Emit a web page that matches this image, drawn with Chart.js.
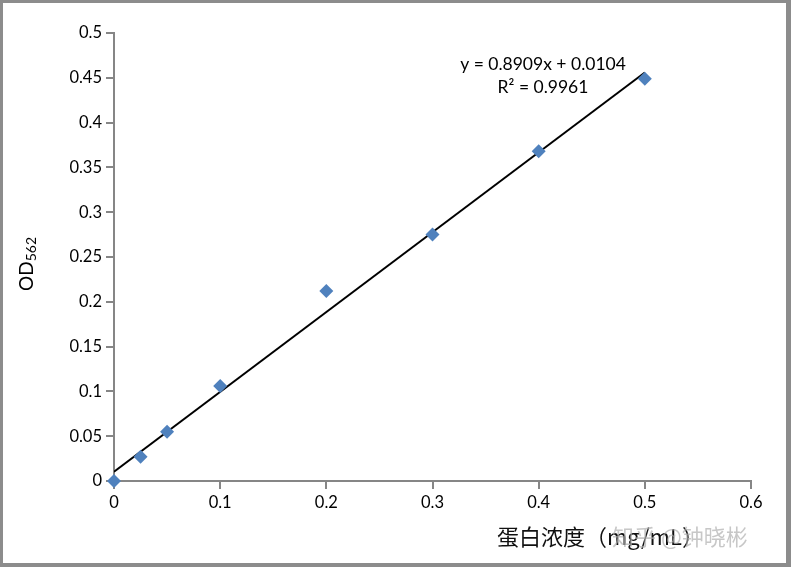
<!DOCTYPE html>
<html>
<head>
<meta charset="utf-8">
<script src="https://cdn.jsdelivr.net/npm/chart.js@4/dist/chart.umd.min.js"></script>
<style>
  html, body { margin: 0; padding: 0; background: #fff; }
  #wrap { width: 791px; height: 567px; position: relative; }
</style>
</head>
<body>
<div id="wrap"><canvas id="myChart" width="791" height="567"></canvas></div>
<script>
// DATA
const concentration = [0, 0.025, 0.05, 0.1, 0.2, 0.3, 0.4, 0.5];
const od562 = [0, 0.027, 0.055, 0.106, 0.212, 0.275, 0.368, 0.449];

const slope = 0.8909;
const intercept = 0.0104;
const trendX = [0, 0.5];

const equationText = 'y = 0.8909x + 0.0104';
const r2Text = 'R² = 0.9961';
const xTitle = '蛋白浓度（mg/mL）';
const watermark = '知乎 @钟晓彬';

const AXIS_GRAY = '#868686';
const POINT_BLUE = '#4F81BD';
const TICK_FONT = { family: 'Lato, "Open Sans", sans-serif', size: 16.5 };

const trendData = trendX.map(x => ({ x: x, y: slope * x + intercept }));
const pointData = concentration.map((c, i) => ({ x: c, y: od562[i] }));

// extra text + frame, drawn on the canvas
const decorations = {
  id: 'decorations',
  afterDraw(chart) {
    const ctx = chart.ctx;
    ctx.save();

    // equation
    ctx.fillStyle = '#000';
    ctx.font = '17.5px Lato, "Open Sans", sans-serif';
    ctx.textAlign = 'center';
    ctx.textBaseline = 'middle';
    ctx.fillText(equationText, 543, 64);
    ctx.fillText(r2Text, 543, 87);

    // y title OD562, rotated
    ctx.translate(27, 262);
    ctx.rotate(-Math.PI / 2);
    ctx.textAlign = 'left';
    ctx.font = '19px Lato, "Open Sans", sans-serif';
    ctx.fillText('OD', -29, 0);
    const w = ctx.measureText('OD').width;
    ctx.font = '14px Lato, "Open Sans", sans-serif';
    ctx.fillText('562', -29 + w, 4);
    ctx.setTransform(1, 0, 0, 1, 0, 0);

    // x title
    ctx.font = '22px "Noto Sans CJK SC", sans-serif';
    ctx.textAlign = 'left';
    ctx.fillStyle = '#111';
    ctx.fillText(xTitle, 497, 537);

    // watermark
    ctx.font = '22px "Noto Sans CJK SC", sans-serif';
    ctx.fillStyle = 'rgba(175,175,175,0.7)';
    ctx.fillText(watermark, 612, 537);

    // photo frame
    ctx.fillStyle = '#8c8c8c';
    ctx.fillRect(0, 0, 791, 3);
    ctx.fillRect(0, 0, 3, 567);
    ctx.fillRect(786, 0, 5, 567);
    ctx.fillRect(0, 563, 791, 4);
    ctx.restore();
  }
};

// CONFIG
const config = {
  type: 'scatter',
  data: {
    datasets: [
      {
        type: 'line',
        label: 'Trend',
        data: trendData,
        borderColor: '#000',
        borderWidth: 2,
        pointRadius: 0,
        fill: false,
        order: 2,
      },
      {
        label: 'OD562',
        data: pointData,
        pointStyle: 'rectRot',
        pointRadius: 7,
        backgroundColor: POINT_BLUE,
        borderColor: POINT_BLUE,
        borderWidth: 0,
        clip: false,
        order: 1,
      }
    ]
  },
  options: {
    responsive: false,
    animation: false,
    layout: { padding: { left: 0, top: 33, right: 40, bottom: 0 } },
    plugins: {
      legend: { display: false },
      tooltip: { enabled: false },
    },
    scales: {
      x: {
        type: 'linear',
        min: 0,
        max: 0.6,
        ticks: {
          stepSize: 0.1,
          color: '#000',
          font: TICK_FONT,
          padding: 4,
          maxRotation: 0,
          callback: v => Number(v.toFixed(1)).toString(),
        },
        grid: { drawOnChartArea: false, drawTicks: true, tickLength: 8, color: AXIS_GRAY, lineWidth: 2 },
        border: { display: true, color: AXIS_GRAY, width: 2 },
        afterFit: scale => { scale.height = 86; },
      },
      y: {
        type: 'linear',
        min: 0,
        max: 0.5,
        ticks: {
          stepSize: 0.05,
          color: '#000',
          font: TICK_FONT,
          padding: 4,
          callback: v => Number(v.toFixed(2)).toString(),
        },
        grid: { drawOnChartArea: false, drawTicks: true, tickLength: 8, color: AXIS_GRAY, lineWidth: 2 },
        border: { display: true, color: AXIS_GRAY, width: 2 },
        afterFit: scale => { scale.width = 114; },
      }
    }
  },
  plugins: [decorations]
};

// CHART
var myChart = new Chart(document.getElementById('myChart'), config);
</script>
</body>
</html>
